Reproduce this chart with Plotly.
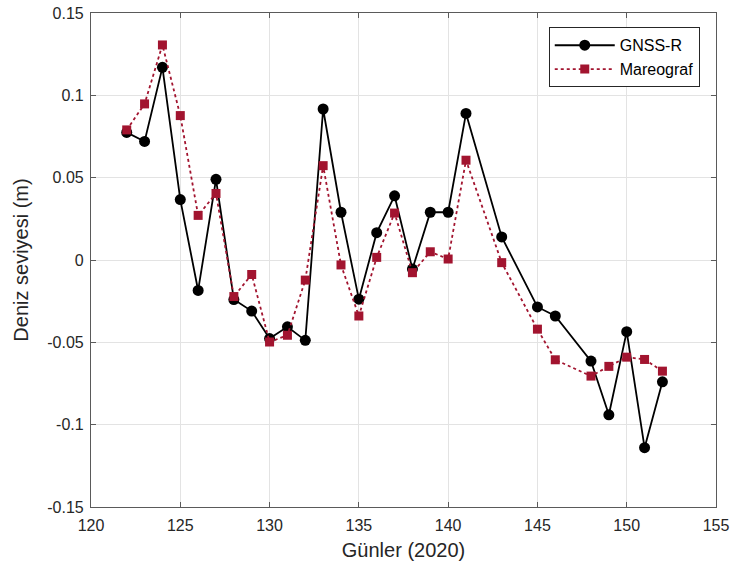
import plotly.graph_objects as go

days = [122, 123, 124, 125, 126, 127, 128, 129, 130, 131, 132, 133, 134, 135, 136,
        137, 138, 139, 140, 141, 143, 145, 146, 148, 149, 150, 151, 152]
gnss_r = [0.0775, 0.072, 0.117, 0.0367, -0.0185, 0.049, -0.024, -0.031, -0.0477, -0.0406,
          -0.0488, 0.0917, 0.029, -0.0238, 0.0166, 0.039, -0.0055, 0.029, 0.029, 0.089,
          0.014, -0.0285, -0.034, -0.0614, -0.094, -0.0435, -0.114, -0.074]
mareograf = [0.079, 0.0948, 0.1306, 0.0877, 0.0271, 0.0404, -0.0222, -0.0088, -0.0498, -0.0457,
             -0.0122, 0.0573, -0.003, -0.034, 0.0016, 0.0285, -0.0077, 0.005, 0.0006, 0.0606,
             -0.0016, -0.042, -0.0606, -0.0705, -0.0646, -0.059, -0.0604, -0.0675]

x_ticks = [120, 125, 130, 135, 140, 145, 150, 155]
y_ticks = [-0.15, -0.1, -0.05, 0, 0.05, 0.1, 0.15]
y_tick_text = ["-0.15", "-0.1", "-0.05", "0", "0.05", "0.1", "0.15"]

fig = go.Figure()
fig.add_trace(go.Scatter(
    x=days, y=gnss_r, name="GNSS-R", mode="lines+markers",
    line=dict(color="black", width=1.8),
    marker=dict(symbol="circle", size=11, color="black"),
))
fig.add_trace(go.Scatter(
    x=days, y=mareograf, name="Mareograf", mode="lines+markers",
    line=dict(color="#A2142F", width=1.8, dash="dot"),
    marker=dict(symbol="square", size=9, color="#A2142F"),
))

axis_common = dict(
    showgrid=True, gridcolor="#e3e3e3", gridwidth=1,
    showline=True, linecolor="#5a5a5a", linewidth=1.2, mirror="ticks",
    ticks="inside", ticklen=5, tickcolor="#5a5a5a",
    tickfont=dict(family="Liberation Sans, Arial, sans-serif", size=16, color="#262626"),
    zeroline=False, automargin=False,
)

fig.update_layout(
    width=731, height=574,
    margin=dict(l=91, r=15, t=13, b=67),
    paper_bgcolor="white", plot_bgcolor="white",
    font=dict(family="Liberation Sans, Arial, sans-serif", color="#262626"),
    xaxis=dict(range=[120, 155], tickvals=x_ticks, ticklabelstandoff=4,
               title=dict(text="Günler (2020)", font=dict(size=20), standoff=9),
               **axis_common),
    yaxis=dict(range=[-0.15, 0.15], tickvals=y_ticks, ticktext=y_tick_text,
               ticklabelstandoff=3,
               title=dict(text="Deniz seviyesi (m)", font=dict(size=20), standoff=13),
               **axis_common),
    legend=dict(x=0.974, y=0.971, xanchor="right", yanchor="top",
                bgcolor="white", bordercolor="#262626", borderwidth=1,
                font=dict(size=16, color="black"), tracegroupgap=0,
                itemwidth=60),
    showlegend=True,
)

fig.write_html("out.html")
